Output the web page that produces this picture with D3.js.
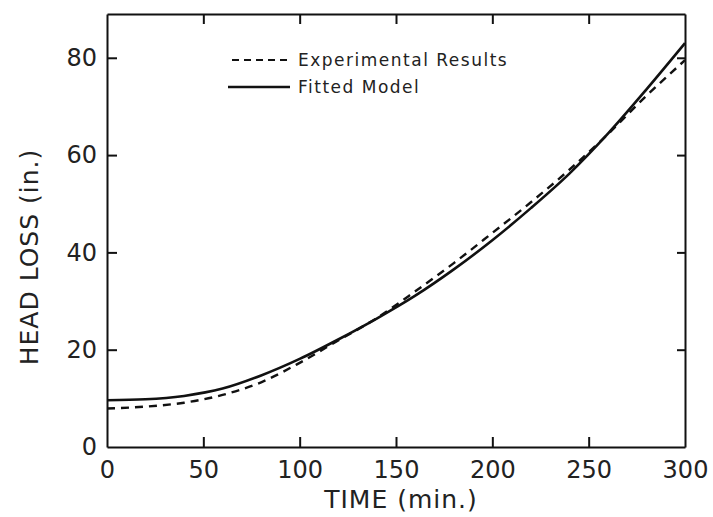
<!DOCTYPE html>
<html>
<head>
<meta charset="utf-8">
<script src="https://cdn.jsdelivr.net/npm/d3@7"></script>
<style>
  body { margin: 0; background: #fff; }
  .axis path, .axis line { stroke: #111; stroke-width: 2; }
  .axis text { font-family: "DejaVu Sans", sans-serif; font-size: 24px; fill: #222; }
  .axisTitle { font-family: "DejaVu Sans", sans-serif; font-size: 25px; fill: #222; letter-spacing: 1px; }
  .legendText { font-family: "DejaVu Sans", sans-serif; font-size: 17px; fill: #222; letter-spacing: 1.5px; }
</style>
</head>
<body>
<div id="chart"></div>
<script>
// values
var times = [0, 20, 40, 60, 80, 100, 120, 140, 160, 180, 200, 220, 240, 260, 280, 300];
var fittedModel = [9.6, 9.8, 10.5, 12.0, 14.7, 18.1, 22.1, 26.4, 31.1, 36.5, 42.5, 49.1, 56.2, 64.4, 73.5, 83.0];
var experimentalResults = [7.9, 8.3, 9.1, 10.7, 13.3, 17.3, 21.9, 26.5, 32.0, 37.8, 44.0, 50.3, 57.0, 64.3, 72.2, 79.5];
var xTicks = [0, 50, 100, 150, 200, 250, 300];
var yTicks = [0, 20, 40, 60, 80];
var legendLabels = ["Experimental Results", "Fitted Model"];

var width = 713, height = 517;
var margin = {top: 14, right: 28, bottom: 70, left: 107};

var svg = d3.select("#chart").append("svg")
    .attr("width", width)
    .attr("height", height);

var x = d3.scaleLinear()
    .domain([0, 300])
    .range([margin.left, width - margin.right]);

var y = d3.scaleLinear()
    .domain([0, 89])
    .range([height - margin.bottom, margin.top]);

//axes, ticks all point inward
svg.append("g")
    .attr("class", "axis")
    .attr("transform", "translate(0," + y(0) + ")")
    .call(d3.axisBottom(x).tickValues(xTicks).tickSizeInner(-10).tickSizeOuter(0).tickPadding(14));

svg.append("g")
    .attr("class", "axis")
    .attr("transform", "translate(" + x(0) + ",0)")
    .call(d3.axisLeft(y).tickValues(yTicks).tickSizeInner(-10).tickSizeOuter(0).tickPadding(10));

svg.append("g")
    .attr("class", "axis")
    .attr("transform", "translate(0," + margin.top + ")")
    .call(d3.axisTop(x).tickValues([50, 100, 150, 200, 250]).tickSizeInner(-10).tickSizeOuter(0).tickFormat(""));

svg.append("g")
    .attr("class", "axis")
    .attr("transform", "translate(" + x(300) + ",0)")
    .call(d3.axisRight(y).tickValues([20, 40, 60, 80]).tickSizeInner(-8).tickSizeOuter(0).tickFormat(""));

// drop the ticks that sit on the frame corners
svg.selectAll(".axis .tick line").filter(function(d){ return d === 0 || d === 300; }).remove();

//axis titles
svg.append("text")
    .attr("class", "axisTitle")
    .attr("x", (x(0) + x(300)) / 2 + 5)
    .attr("y", 508)
    .attr("text-anchor", "middle")
    .text("TIME (min.)");

svg.append("text")
    .attr("class", "axisTitle")
    .attr("transform", "translate(38," + 257 + ") rotate(-90)")
    .attr("text-anchor", "middle")
    .text("HEAD LOSS (in.)");

//curves
var fittedData = times.map(function(t, i){ return {t: t, v: fittedModel[i]}; });
var expData = times.map(function(t, i){ return {t: t, v: experimentalResults[i]}; });

var line = d3.line()
    .x(function(d){ return x(d.t); })
    .y(function(d){ return y(d.v); })
    .curve(d3.curveMonotoneX);

svg.append("path")
    .datum(expData)
    .attr("d", line)
    .attr("fill", "none")
    .attr("stroke", "#111")
    .attr("stroke-width", 2.4)
    .attr("stroke-dasharray", "8,6");

svg.append("path")
    .datum(fittedData)
    .attr("d", line)
    .attr("fill", "none")
    .attr("stroke", "#111")
    .attr("stroke-width", 2.6);

//legend
var legend = svg.append("g").attr("class", "legend");

legend.append("line")
    .attr("x1", 232).attr("x2", 290)
    .attr("y1", 60).attr("y2", 60)
    .attr("stroke", "#111")
    .attr("stroke-width", 2.2)
    .attr("stroke-dasharray", "7,5");

legend.append("line")
    .attr("x1", 228).attr("x2", 290)
    .attr("y1", 87).attr("y2", 87)
    .attr("stroke", "#111")
    .attr("stroke-width", 2.4);

legend.selectAll("text.legendText")
    .data(legendLabels)
    .enter()
    .append("text")
    .attr("class", "legendText")
    .attr("x", 298)
    .attr("y", function(d, i){ return 66 + i * 27; })
    .text(function(d){ return d; });
</script>
</body>
</html>
